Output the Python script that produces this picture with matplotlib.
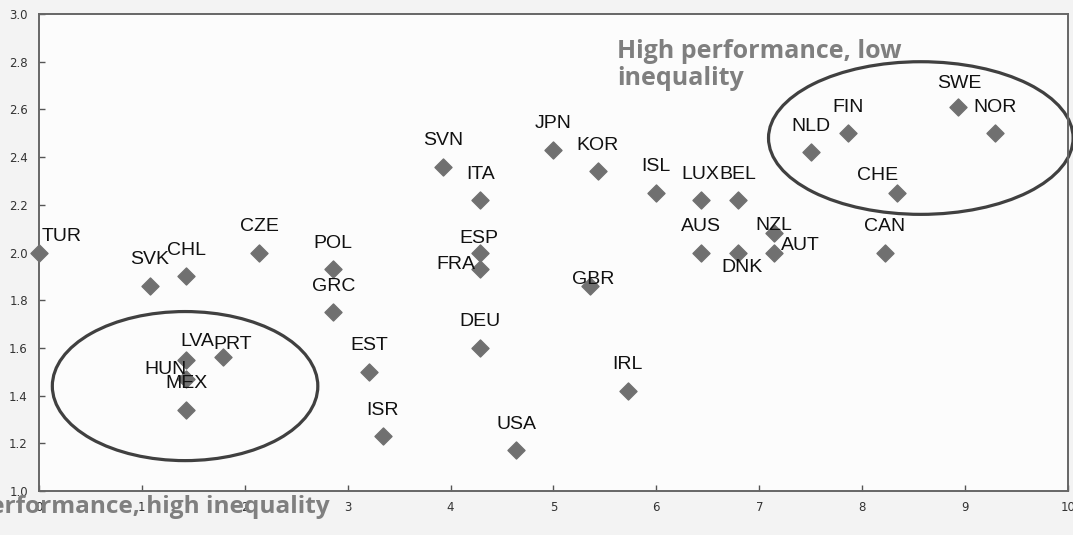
import matplotlib.pyplot as plt
from matplotlib.patches import Ellipse

# country codes and their values (x: performance index, y: equality index)
countries = ['TUR', 'SVK', 'CHL', 'CZE', 'POL', 'GRC', 'LVA', 'PRT', 'HUN', 'MEX',
             'EST', 'ISR', 'SVN', 'ITA', 'ESP', 'FRA', 'DEU', 'USA', 'JPN', 'KOR',
             'GBR', 'IRL', 'ISL', 'LUX', 'BEL', 'AUS', 'DNK', 'NZL', 'AUT', 'CAN',
             'CHE', 'NLD', 'FIN', 'SWE', 'NOR']
x_vals = [0.00, 1.08, 1.43, 2.14, 2.86, 2.86, 1.43, 1.79, 1.43, 1.43,
          3.21, 3.34, 3.93, 4.29, 4.29, 4.29, 4.29, 4.64, 5.00, 5.43,
          5.36, 5.72, 6.00, 6.43, 6.79, 6.43, 6.79, 7.14, 7.14, 8.22,
          8.34, 7.50, 7.86, 8.93, 9.29]
y_vals = [2.00, 1.86, 1.90, 2.00, 1.93, 1.75, 1.55, 1.56, 1.47, 1.34,
          1.50, 1.23, 2.36, 2.22, 2.00, 1.93, 1.60, 1.17, 2.43, 2.34,
          1.86, 1.42, 2.25, 2.22, 2.22, 2.00, 2.00, 2.08, 2.00, 2.00,
          2.25, 2.42, 2.50, 2.61, 2.50]

# label placement (pixels from the marker), default is straight above
label_default = (0, 26)
label_offsets = {'TUR': (23, 16), 'LVA': (11, 18), 'PRT': (10, 13), 'HUN': (-21, 9),
                 'ESP': (-2, 14), 'FRA': (-25, 5), 'GBR': (3, 6), 'DNK': (4, -15),
                 'NZL': (0, 8), 'AUT': (27, 7), 'CHE': (-20, 17), 'SWE': (1, 24)}

fig = plt.figure(figsize=(10.73, 5.35), dpi=100)
fig.patch.set_facecolor('#f3f3f3')
ax = fig.add_axes([0.0363, 0.0822, 0.9590, 0.8916])
ax.set_facecolor('#fcfcfc')

ax.scatter(x_vals, y_vals, marker='D', s=75, color='#707070', zorder=3, clip_on=False)

for c, x, y in zip(countries, x_vals, y_vals):
    dx, dy = label_offsets.get(c, label_default)
    ax.annotate(c, (x, y), xytext=(dx, dy), textcoords='offset pixels',
                ha='center', va='center', fontsize=14, family='Liberation Sans',
                color='#111111', zorder=4)

# groups highlighted with ellipses
ax.add_patch(Ellipse((1.42, 1.44), 2.58, 0.625, fill=False, edgecolor='#404040',
                     lw=2.3, clip_on=False, zorder=2))
ax.add_patch(Ellipse((8.57, 2.48), 2.96, 0.64, fill=False, edgecolor='#404040',
                     lw=2.3, clip_on=False, zorder=2))

ax.set_xlim(0, 10)
ax.set_ylim(1.0, 3.0)
ax.set_xticks(range(0, 11))
ax.set_yticks([1.0, 1.2, 1.4, 1.6, 1.8, 2.0, 2.2, 2.4, 2.6, 2.8, 3.0])
ax.set_yticklabels(['%.1f' % v for v in ax.get_yticks()])
ax.tick_params(direction='in', length=4, width=1, colors='#555555', labelsize=8.5,
               labelcolor='#333333')
ax.tick_params(axis='y', pad=8)
ax.tick_params(axis='x', pad=7)
for s in ax.spines.values():
    s.set_color('#666666')
    s.set_linewidth(1.4)

fig.text(617 / 1073, 1 - 85 / 535, 'High performance, low\ninequality', ha='left',
         va='baseline', fontsize=18, family='Open Sans', weight='bold',
         color='#7f7f7f', linespacing=1.1)
fig.text(330 / 1073, 1 - 513 / 535, 'Low performance, high inequality', ha='right',
         va='baseline', fontsize=17.6, family='Open Sans', weight='bold', color='#7f7f7f')

fig.savefig('out.png', dpi=100, facecolor=fig.get_facecolor())
